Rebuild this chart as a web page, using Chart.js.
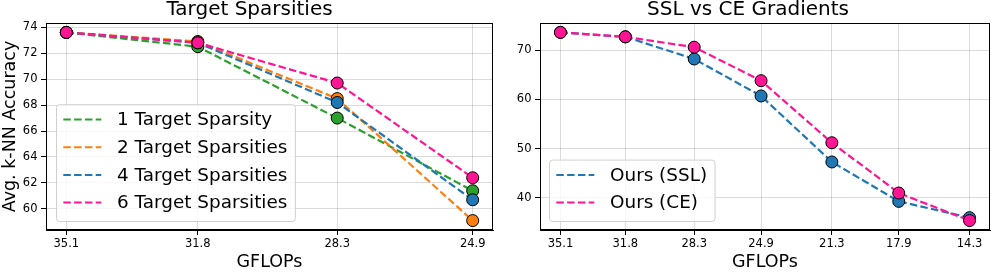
<!DOCTYPE html>
<html>
<head>
<meta charset="utf-8">
<script src="https://cdn.jsdelivr.net/npm/chart.js@4"></script>
<style>
body { margin: 0; background: #fff; }
#wrap { position: relative; width: 997px; height: 273px; }
.panel { position: absolute; top: 0; height: 273px; }
</style>
</head>
<body>
<div id="wrap">
  <div class="panel" style="left:0;width:500px"><canvas id="left" width="500" height="273"></canvas></div>
  <div class="panel" style="left:500px;width:497px"><canvas id="right" width="497" height="273"></canvas></div>
</div>
<script>
// left panel: target sparsities
const gflopsLeft = [35.1, 31.8, 28.3, 24.9]
const oneTarget = [73.6, 72.5, 67.0, 61.4]
const twoTargets = [73.6, 72.9, 68.5, 59.1]
const fourTargets = [73.6, 72.8, 68.2, 60.7]
const sixTargets = [73.6, 72.8, 69.7, 62.4]
const leftYTicks = [60, 62, 64, 66, 68, 70, 72, 74]

// right panel: SSL vs CE gradients
const gflopsRight = [35.1, 31.8, 28.3, 24.9, 21.3, 17.9, 14.3]
const oursSSL = [73.6, 72.7, 68.2, 60.7, 47.3, 39.3, 36.0]
const oursCE = [73.6, 72.7, 70.6, 63.8, 51.2, 41.0, 35.4]
const rightYTicks = [40, 50, 60, 70]

const family = '"DejaVu Sans", sans-serif'
const gridColor = 'rgba(0,0,0,0.14)'

// matplotlib-like frame around the plot area
const frame = {
    id: 'frame',
    afterDatasetsDraw(chart) {
        const a = chart.chartArea, ctx = chart.ctx
        ctx.save()
        ctx.strokeStyle = '#000'
        ctx.lineWidth = 1
        ctx.strokeRect(a.left + 0.5, a.top + 0.5, a.right - a.left - 1, a.bottom - a.top - 1)
        ctx.restore()
    }
}

// legend box drawn inside the plot, lower left
const boxLegend = {
    id: 'boxLegend',
    afterDraw(chart, args, opts) {
        const ctx = chart.ctx, a = chart.chartArea
        const sets = chart.data.datasets
        ctx.save()
        ctx.font = '18.4px ' + family
        const textW = Math.max(...sets.map(d => ctx.measureText(d.label).width))
        const rowH = 27.7, lineLen = 38, gap = 15.7
        const w = 7.3 + lineLen + gap + textW + 7.5
        const h = rowH * sets.length + 6
        const x = a.left + opts.dx, y = a.bottom - 9 - h
        ctx.beginPath()
        ctx.roundRect(x + 0.5, y + 0.5, w, h, 3)
        ctx.fillStyle = 'rgba(255,255,255,0.8)'
        ctx.fill()
        ctx.strokeStyle = '#d0d0d0'
        ctx.lineWidth = 1
        ctx.stroke()
        sets.forEach((d, i) => {
            const cy = y + 15.3 + i * rowH
            ctx.beginPath()
            ctx.setLineDash(d.borderDash)
            ctx.strokeStyle = d.borderColor
            ctx.lineWidth = 2
            ctx.moveTo(x + 7.3, cy)
            ctx.lineTo(x + 7.3 + lineLen, cy)
            ctx.stroke()
            ctx.setLineDash([])
            ctx.fillStyle = '#000'
            ctx.textBaseline = 'middle'
            ctx.fillText(d.label, x + 7.3 + lineLen + gap, cy + 1)
        })
        ctx.restore()
    }
}

function series(label, xs, ys, color, order) {
    return {
        label: label,
        data: xs.map((g, i) => ({ x: g, y: ys[i] })),
        borderColor: color,
        backgroundColor: color,
        pointBackgroundColor: color,
        pointBorderColor: '#000',
        pointBorderWidth: 1,
        pointRadius: 6,
        borderWidth: 2.2,
        borderDash: [7.5, 3.3],
        tension: 0,
        order: order
    }
}

function range(values) {
    const lo = Math.min(...values), hi = Math.max(...values)
    const m = (hi - lo) * 0.05
    return [lo - m, hi + m]
}

function makeChart(id, title, xs, datasets, yTicks, yWidth, legendDx) {
    const [xMin, xMax] = range(xs)
    const [yMin, yMax] = range(datasets.flatMap(d => d.data.map(p => p.y)))
    new Chart(document.getElementById(id).getContext('2d'), {
        type: 'line',
        data: { datasets: datasets },
        plugins: [frame, boxLegend],
        options: {
            responsive: false,
            animation: false,
            events: [],
            layout: { padding: { right: 1 } },
            plugins: {
                legend: { display: false },
                tooltip: { enabled: false },
                title: {
                    display: true,
                    text: title,
                    color: '#000',
                    font: { family: family, size: 20, weight: 'normal', lineHeight: 1 },
                    padding: { top: 0, bottom: 3 }
                },
                boxLegend: { dx: legendDx }
            },
            scales: {
                x: {
                    type: 'linear',
                    reverse: true,
                    min: xMin,
                    max: xMax,
                    afterBuildTicks: s => { s.ticks = xs.map(v => ({ value: v })) },
                    afterFit: s => { s.height = 43 },
                    ticks: {
                        callback: v => v.toFixed(1),
                        color: '#000',
                        font: { family: family, size: 11.5 },
                        padding: 2,
                        maxRotation: 0,
                        autoSkip: false
                    },
                    grid: { color: gridColor, tickColor: '#000', tickLength: 5 },
                    border: { color: '#000' },
                    title: {
                        display: true,
                        text: 'GFLOPs',
                        color: '#000',
                        font: { family: family, size: 17.5 },
                        padding: { top: 0, bottom: 0.5 }
                    }
                },
                y: {
                    min: yMin,
                    max: yMax,
                    afterBuildTicks: s => { s.ticks = yTicks.map(v => ({ value: v })) },
                    afterFit: s => { s.width = yWidth },
                    ticks: {
                        color: '#000',
                        font: { family: family, size: 11.5 },
                        padding: 3.5
                    },
                    grid: { color: gridColor, tickColor: '#000', tickLength: 5 },
                    border: { color: '#000' },
                    title: {
                        display: id === 'left',
                        text: 'Avg. k-NN Accuracy',
                        color: '#000',
                        font: { family: family, size: 17.5 },
                        padding: { top: 0, bottom: 0 }
                    }
                }
            }
        }
    })
}

makeChart('left', 'Target Sparsities', gflopsLeft, [
    series('1 Target Sparsity', gflopsLeft, oneTarget, '#2ca02c', 3),
    series('2 Target Sparsities', gflopsLeft, twoTargets, '#ff7f0e', 2),
    series('4 Target Sparsities', gflopsLeft, fourTargets, '#1f77b4', 1),
    series('6 Target Sparsities', gflopsLeft, sixTargets, '#ff1493', 0)
], leftYTicks, 46, 10)

makeChart('right', 'SSL vs CE Gradients', gflopsRight, [
    series('Ours (SSL)', gflopsRight, oursSSL, '#1f77b4', 1),
    series('Ours (CE)', gflopsRight, oursCE, '#ff1493', 0)
], rightYTicks, 40, 9)
</script>
</body>
</html>
